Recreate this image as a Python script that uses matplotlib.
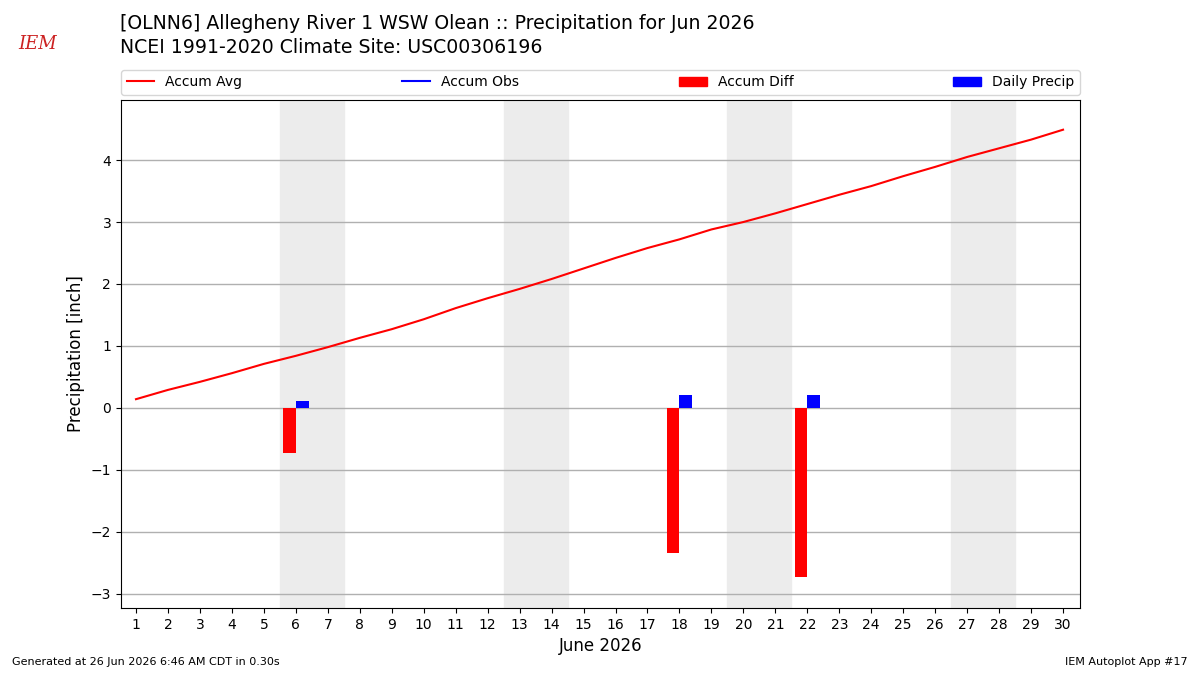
import matplotlib
matplotlib.use("Agg")
import matplotlib.pyplot as plt
import numpy as np
from matplotlib.lines import Line2D
from matplotlib.patches import Patch

days = list(range(1, 31))
accum_avg = [0.14, 0.29, 0.42, 0.56, 0.71, 0.84, 0.98, 1.13, 1.27, 1.43,
             1.61, 1.77, 1.92, 2.08, 2.25, 2.42, 2.58, 2.72, 2.88, 3.00,
             3.14, 3.29, 3.44, 3.58, 3.74, 3.89, 4.05, 4.19, 4.33, 4.49]
precip_days = [6, 18, 22]
daily_precip = [0.11, 0.21, 0.21]
accum_diff = [-0.73, -2.35, -2.73]
weekends = [6, 13, 20, 27]

fig = plt.figure(figsize=(12, 6.75), dpi=100)
ax = fig.add_axes([0.1008, 0.0993, 0.7992, 0.7526])

for d in weekends:
    ax.axvspan(d - 0.5, d + 1.5, color="#ececec", zorder=0)

ax.plot(days, accum_avg, color="r", lw=1.5, zorder=3)
ax.bar(np.array(precip_days) - 0.4, accum_diff, width=0.4, align="edge",
       color="r", zorder=3)
ax.bar(precip_days, daily_precip, width=0.4, align="edge", color="b", zorder=3)

ax.set_xlim(0.53, 30.53)
ax.set_ylim(-3.23, 4.97)
ax.set_xticks(days)
ax.set_yticks(range(-3, 5))
ax.set_yticklabels([("\u2212%d" % -v) if v < 0 else str(v) for v in range(-3, 5)])
ax.yaxis.grid(True, color="#b0b0b0", lw=1, zorder=1)
ax.set_axisbelow(True)
ax.tick_params(labelsize=10)
ax.set_xlabel("June 2026", fontsize=12)
ax.set_ylabel("Precipitation [inch]", fontsize=12)

handles = [Line2D([], [], color="r"), Line2D([], [], color="b"),
           Patch(color="r"), Patch(color="b")]
labels = ["Accum Avg", "Accum Obs", "Accum Diff", "Daily Precip"]
ax.legend(handles, labels, ncol=4, mode="expand", loc="lower left",
          bbox_to_anchor=(0, 1.01, 1, 0.05), borderaxespad=0, fontsize=10)

fig.text(0.1, 0.965, "[OLNN6] Allegheny River 1 WSW Olean :: Precipitation for Jun 2026",
         fontsize=13.6, va="center")
fig.text(0.1, 0.93, "NCEI 1991-2020 Climate Site: USC00306196",
         fontsize=13.6, va="center")
fig.text(0.01, 0.015, "Generated at 26 Jun 2026 6:46 AM CDT in 0.30s", fontsize=8)
fig.text(0.99, 0.015, "IEM Autoplot App #17", fontsize=8, ha="right")
fig.text(0.031, 0.935, "IEM", fontsize=13, color="#cc2222", style="italic",
         family="DejaVu Serif", va="center", ha="center")

fig.savefig("out.png", dpi=100)
